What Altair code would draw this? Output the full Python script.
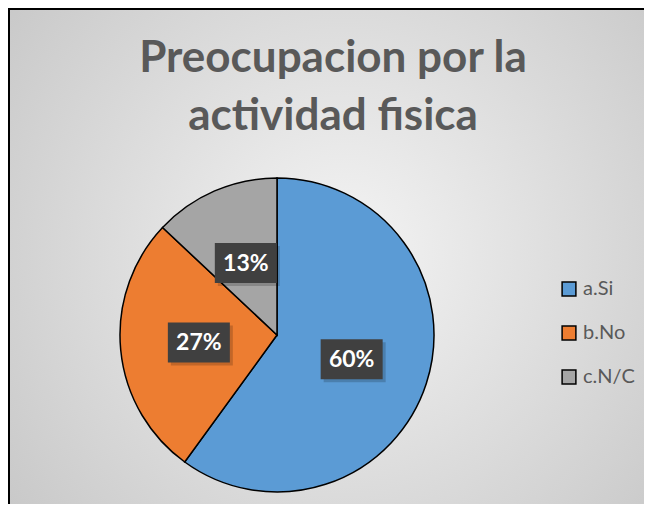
import altair as alt
import pandas as pd

categories = ["a.Si", "b.No", "c.N/C"]
values = [60, 27, 13]
colors = ["#5B9BD5", "#ED7D31", "#A5A5A5"]
title_lines = ["Preocupacion por la", "actividad fisica"]

W, H = 636, 496
CX, CY, R = 269, 327, 157
LR = 78.5

df = pd.DataFrame({"cat": categories, "value": values, "idx": list(range(len(values)))})
tdf = pd.DataFrame({"line": title_lines, "i": [0, 1]})
one = pd.DataFrame({"a": [0]})

grad = {
    "gradient": "radial",
    "x1": 0.52, "y1": 0.48, "x2": 0.52, "y2": 0.48, "r1": 0, "r2": 0.72,
    "stops": [{"offset": 0, "color": "#f4f4f4"}, {"offset": 1, "color": "#c4c4c4"}],
}

bg = alt.Chart(one).mark_rect(fill=grad).encode(
    x=alt.value(0), x2=alt.value(W + 10), y=alt.value(0), y2=alt.value(H + 20)
)
border_top = alt.Chart(one).mark_rule(color="black", strokeWidth=2).encode(
    x=alt.value(0), x2=alt.value(W + 10), y=alt.value(1)
)
border_left = alt.Chart(one).mark_rule(color="black", strokeWidth=2).encode(
    x=alt.value(1), y=alt.value(0), y2=alt.value(H + 20)
)

title = alt.Chart(tdf).transform_calculate(
    ty="64 + datum.i * 58"
).mark_text(
    font="Lato", fontSize=44, fontWeight="bold", color="#595959",
    align="center", baseline="alphabetic"
).encode(
    x=alt.value(325),
    y=alt.Y("ty:Q", scale=None),
    text="line:N",
)

pie = alt.Chart(df).mark_arc(radius=R, stroke="black", strokeWidth=1.5).encode(
    theta=alt.Theta("value:Q", stack=True),
    order=alt.Order("idx:Q"),
    color=alt.Color(
        "cat:N",
        scale=alt.Scale(domain=categories, range=colors),
        legend=alt.Legend(
            title=None, orient="none", legendX=551, legendY=271,
            symbolType="square", symbolSize=190, symbolStrokeColor="black",
            symbolStrokeWidth=1.5, labelFont="Lato", labelFontSize=20,
            labelColor="#595959", rowPadding=24, labelOffset=4,
        ),
    ),
    x=alt.value(CX), y=alt.value(CY),
)

pos = alt.Chart(df).transform_joinaggregate(
    total="sum(value)"
).transform_window(
    cum="sum(value)", sort=[alt.SortField("idx")]
).transform_calculate(
    mid="(datum.cum - datum.value / 2) / datum.total * 2 * PI",
    px=f"{CX} + {LR} * sin(datum.mid)",
    py=f"{CY} - {LR} * cos(datum.mid)",
    label="datum.value + '%'",
)

shadow = pos.mark_point(
    shape="M-1,-0.645L1,-0.645L1,0.645L-1,0.645Z", size=3844, filled=True,
    color="black", opacity=0.18, strokeWidth=0,
).encode(
    x=alt.X("px:Q", scale=None), y=alt.Y("py:Q", scale=None),
    xOffset=alt.value(3), yOffset=alt.value(3),
)
box = pos.mark_point(
    shape="M-1,-0.645L1,-0.645L1,0.645L-1,0.645Z", size=3844, filled=True,
    color="#404040", opacity=1, strokeWidth=0,
).encode(x=alt.X("px:Q", scale=None), y=alt.Y("py:Q", scale=None))
text = pos.mark_text(
    font="Lato", fontSize=23, fontWeight="bold", color="white",
    align="center", baseline="middle", dy=1,
).encode(x=alt.X("px:Q", scale=None), y=alt.Y("py:Q", scale=None), text="label:N")

chart = alt.layer(bg, border_top, border_left, title, pie, shadow, box, text).properties(
    width=W, height=H, padding=0, autosize=alt.AutoSizeParams(type="none")
).configure_view(stroke=None)

chart.save("out.html", embed_options={"renderer": "svg", "actions": False})
